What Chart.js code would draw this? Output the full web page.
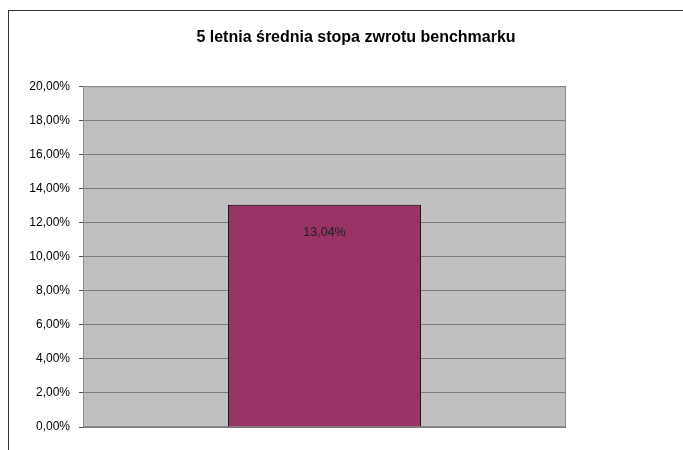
<!DOCTYPE html>
<html>
<head>
<meta charset="utf-8">
<script src="https://cdn.jsdelivr.net/npm/chart.js@4"></script>
<style>
  body { margin: 0; background: #fff; width: 683px; height: 450px; overflow: hidden; }
  #frame { position: absolute; left: 8px; top: 10px; width: 700px; height: 440px;
           border-left: 1px solid #333; border-top: 1px solid #333; }
  #chart { display: block; }
</style>
</head>
<body>
<div id="frame"><canvas id="chart" width="694" height="439"></canvas></div>
<script>
const categories = [''];
const returns = [13.04];          // percent
const valueLabels = ['13,04%'];
const yMin = 0, yMax = 20, yStep = 2;

function fmtPct(v) {
  return v.toFixed(2).replace('.', ',') + '%';
}

// grey plot background + frame round the plot area
const plotArea = {
  id: 'plotArea',
  beforeDraw(chart) {
    const { ctx, chartArea: a } = chart;
    ctx.save();
    ctx.fillStyle = '#c0c0c0';
    ctx.fillRect(a.left, a.top, a.width, a.height);
    ctx.restore();
  },
  beforeDatasetsDraw(chart) {
    const { ctx, chartArea: a } = chart;
    ctx.save();
    ctx.strokeStyle = '#8c8c8c';
    ctx.lineWidth = 1;
    ctx.strokeRect(a.left + 0.5, a.top + 0.5, a.width - 1, a.height - 1);
    ctx.restore();
  }
};

// value label inside the bar, near its top
const barLabel = {
  id: 'barLabel',
  afterDatasetsDraw(chart) {
    const ctx = chart.ctx;
    const meta = chart.getDatasetMeta(0);
    ctx.save();
    ctx.font = '12.5px "Liberation Sans", Arial, sans-serif';
    ctx.fillStyle = '#222';
    ctx.textAlign = 'center';
    ctx.textBaseline = 'middle';
    meta.data.forEach((bar, i) => {
      ctx.fillText(valueLabels[i], bar.x, bar.y + 28);
    });
    ctx.restore();
  }
};

new Chart(document.getElementById('chart'), {
  type: 'bar',
  data: {
    labels: categories,
    datasets: [{
      data: returns,
      backgroundColor: '#993366',
      borderColor: '#000',
      borderWidth: 1,
      categoryPercentage: 1,
      barPercentage: 0.4
    }]
  },
  options: {
    responsive: false,
    animation: false,
    layout: { padding: { left: 0, right: 0, top: 0, bottom: 23 } },
    plugins: {
      legend: { display: false },
      tooltip: { enabled: false },
      title: {
        display: true,
        text: '5 letnia średnia stopa zwrotu benchmarku',
        color: '#000',
        font: { family: '"Liberation Sans", Arial, sans-serif', size: 16, weight: 'bold' },
        padding: { top: 17, bottom: 39 }
      }
    },
    scales: {
      x: { display: false },
      y: {
        min: yMin,
        max: yMax,
        afterFit(scale) { scale.width = 74; },
        ticks: {
          stepSize: yStep,
          padding: 9,
          color: '#000',
          font: { family: '"Liberation Sans", Arial, sans-serif', size: 12 },
          callback: v => fmtPct(v)
        },
        grid: { color: '#7a7a7a', lineWidth: 1, tickLength: 4, tickColor: '#555' },
        border: { color: '#808080' }
      },
      // empty right-hand strip, keeps the title centred over the whole frame
      spacer: {
        position: 'right',
        afterFit(scale) { scale.width = 137; },
        ticks: { display: false },
        grid: { display: false },
        border: { display: false }
      }
    }
  },
  plugins: [plotArea, barLabel]
});
</script>
</body>
</html>
